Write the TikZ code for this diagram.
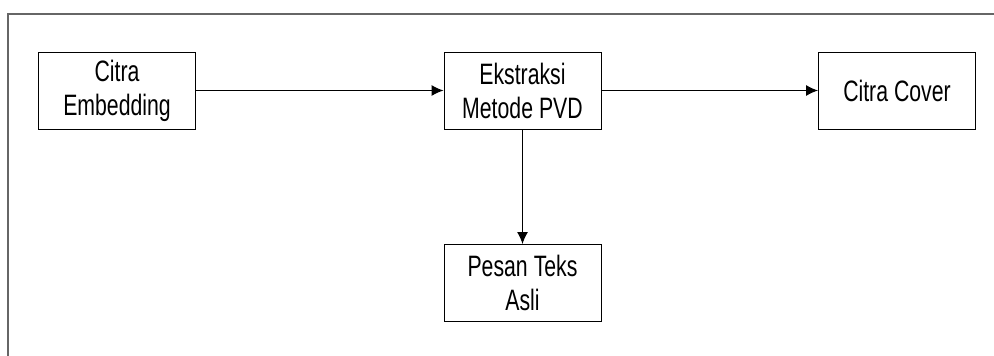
\documentclass[tikz,border=0pt]{standalone}
\usepackage{fontspec}
\setmainfont[FakeStretch=0.72]{Liberation Sans}
\usepackage{tikz}
\usetikzlibrary{shapes,arrows.meta}

\begin{document}
\begin{tikzpicture}[x=1pt,y=-1pt,
    block_proc/.style ={rectangle, draw=black, line width=1pt, fill=white,
      text width=150pt, align=center, inner sep=0pt,
      minimum width=157pt, minimum height=77pt,
      font=\fontsize{29.5}{34}\selectfont,
      execute at begin node={\spaceskip=6pt\relax}},
    frame_line/.style ={draw=black!60, line width=1.6pt},
      line/.style ={draw, line width=1pt, -{Latex[length=12pt,width=11pt]}}]
    \useasboundingbox (0,0) rectangle (994,356);
    % outer frame (only top and left edge visible)
    \path[frame_line] (994,14) -- (8,14) -- (8,356);
    % process boxes
    \node [block_proc] (citra_embed) at (117,90.5) {Citra\\Embedding};
    \node [block_proc] (ekstraksi) at (522.5,90.5) {Ekstraksi\\Metode PVD};
    \node [block_proc] (citra_cover) at (897,90.5) {Citra Cover};
    \node [block_proc] (pesan_asli) at (522.5,283) {Pesan Teks\\Asli};
    % connecting nodes with paths
    \begin{scope}[every path/.style=line]
      \path (citra_embed) -- (ekstraksi);
      \path (ekstraksi)   -- (citra_cover);
      \path (ekstraksi)   -- (pesan_asli);
    \end{scope}
  \end{tikzpicture}
\end{document}
